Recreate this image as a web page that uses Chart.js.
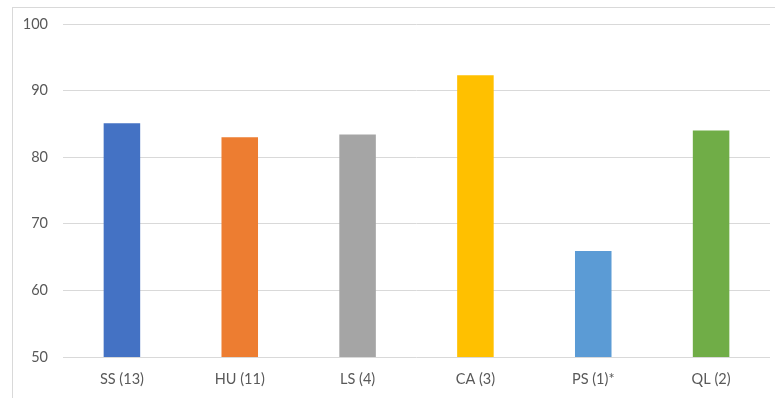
<!DOCTYPE html>
<html>
<head>
<meta charset="utf-8">
<script src="https://cdn.jsdelivr.net/npm/chart.js@4/dist/chart.umd.min.js"></script>
<style>
  html, body { margin: 0; padding: 0; background: #ffffff; }
  #wrap { position: relative; width: 775px; height: 398px; overflow: hidden; }
  #frame {
    position: absolute; left: 12px; top: 7px; width: 800px; height: 420px;
    border-left: 1px solid #d9d9d9; border-top: 1px solid #d9d9d9;
  }
  canvas { position: absolute; left: 0; top: 0; }
</style>
</head>
<body>
<div id="wrap">
  <div id="frame"></div>
  <canvas id="scoreChart" width="775" height="398"></canvas>
</div>
<script>
// Kategori dan nilai rata-rata
const categories = ["SS (13)", "HU (11)", "LS (4)", "CA (3)", "PS (1)*", "QL (2)"];
const scores = [85.1, 83.0, 83.4, 92.3, 65.9, 84.0];
const barColors = ["#4472C4", "#ED7D31", "#A5A5A5", "#FFC000", "#5B9BD5", "#70AD47"];
const yTicks = [50, 60, 70, 80, 90, 100];

const textColor = "#595959";
const fontFamily = "Lato, 'Open Sans', sans-serif";

const ctx = document.getElementById("scoreChart").getContext("2d");

new Chart(ctx, {
  type: "bar",
  data: {
    labels: categories,
    datasets: [
      {
        data: scores,
        backgroundColor: barColors,
        borderWidth: 0,
        barPercentage: 0.31,
        categoryPercentage: 1,
      },
    ],
  },
  options: {
    responsive: false,
    animation: false,
    layout: {
      padding: { top: 24, right: 5, left: 0, bottom: 0 },
    },
    plugins: {
      legend: { display: false },
      tooltip: { enabled: false },
    },
    scales: {
      x: {
        grid: { display: false, drawTicks: false },
        border: { display: false },
        ticks: {
          color: textColor,
          padding: 14,
          font: { family: fontFamily, size: 14.5 },
        },
        afterFit: function (scale) {
          scale.height = 41;
        },
      },
      y: {
        min: yTicks[0],
        max: yTicks[yTicks.length - 1],
        grid: { color: "#d9d9d9", lineWidth: 1, drawTicks: false },
        border: { display: false },
        ticks: {
          stepSize: 10,
          color: textColor,
          padding: 15,
          font: { family: fontFamily, size: 14.5 },
        },
        afterBuildTicks: function (scale) {
          scale.ticks = yTicks.map((v) => ({ value: v }));
        },
        afterFit: function (scale) {
          scale.width = 63;
        },
      },
    },
  },
});
</script>
</body>
</html>
